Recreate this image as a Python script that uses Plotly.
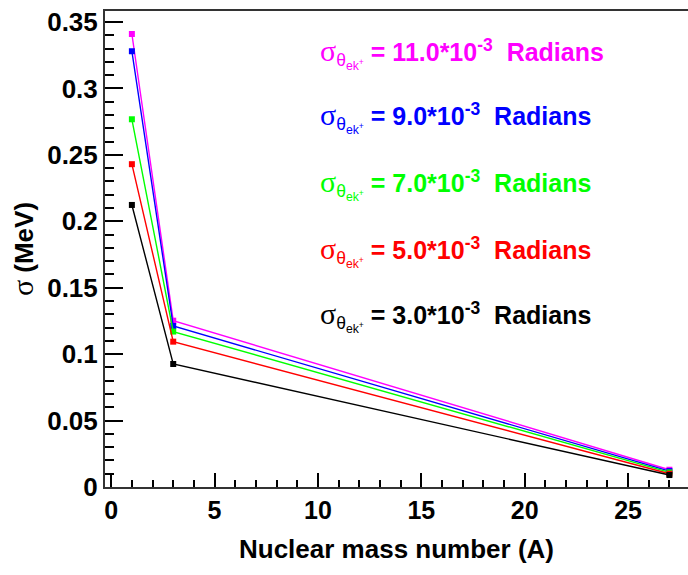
import plotly.graph_objects as go

mass_numbers = [1, 3, 27]
labels = ["11.0", "9.0", "7.0", "5.0", "3.0"]
colors = ["#FF00FF", "#0000FF", "#00FF00", "#FF0000", "#000000"]
sigma_11 = [0.341, 0.1252, 0.013]
sigma_9 = [0.328, 0.1212, 0.012]
sigma_7 = [0.2768, 0.117, 0.011]
sigma_5 = [0.243, 0.1094, 0.010]
sigma_3 = [0.2123, 0.0926, 0.009]
series = [sigma_11, sigma_9, sigma_7, sigma_5, sigma_3]

FONT = "Liberation Sans, Arial, sans-serif"

fig = go.Figure()
for lab, col, ys in zip(labels, colors, series):
    fig.add_trace(go.Scatter(
        x=mass_numbers, y=ys, mode="lines+markers",
        line=dict(color=col, width=1.4),
        marker=dict(symbol="square", size=6, color=col),
        showlegend=False, name=lab))

# legend-like text (row centres in pixels from top)
row_px = [53, 118, 184, 251, 316]
for lab, col, py in zip(labels, colors, row_px):
    fig.add_annotation(
        x=0.365, y=1 - (py - 11) / 476, xref="paper", yref="paper",
        xanchor="left", yanchor="middle",
        showarrow=False,
        text=(f"<span style='font-family:Liberation Serif;font-weight:normal;font-size:30px'>σ</span>"
              f"<sub>θ<sub>ek<sup>+</sup></sub></sub>"
              f"<b> = {lab}*10<sup>-3</sup>  Radians</b>"),
        font=dict(family=FONT, size=25, color=col))

fig.update_layout(
    width=688, height=575,
    margin=dict(l=105, r=0, t=11, b=88),
    paper_bgcolor="white", plot_bgcolor="white",
    font=dict(family=FONT, color="black"),
)
fig.update_xaxes(
    range=[-0.3, 27.9], tick0=0, dtick=5, automargin=False,
    ticks="inside", ticklen=14, tickwidth=2, tickcolor="black",
    minor=dict(ticks="inside", ticklen=7, dtick=1, tickwidth=1.5, tickcolor="black"),
    showline=True, linecolor="#333", linewidth=2, mirror=True,
    showgrid=False, zeroline=False,
    tickfont=dict(family=FONT, size=25, color="black", weight="bold"),
    title=dict(text="<b>Nuclear mass number (A)</b>", font=dict(family=FONT, size=26, color="black"), standoff=17),
)
fig.update_yaxes(
    range=[0, 0.3583], tick0=0, dtick=0.05, automargin=False,
    ticks="inside", ticklen=18, tickwidth=2, tickcolor="black",
    minor=dict(ticks="inside", ticklen=9, dtick=0.01, tickwidth=1.5, tickcolor="black"),
    showline=True, linecolor="#333", linewidth=2,
    showgrid=False, zeroline=False,
    tickfont=dict(family=FONT, size=26, color="black", weight="bold"),
    tickformat="~g",
    title=dict(text="<span style='font-family:Liberation Serif;font-weight:normal;font-size:30px'>σ</span><b> (MeV)</b>", font=dict(family=FONT, size=26, color="black"), standoff=6),
)

fig.write_html("out.html", config={"displayModeBar": False},
               post_script="document.body.style.margin='0';document.body.style.padding='0';")
